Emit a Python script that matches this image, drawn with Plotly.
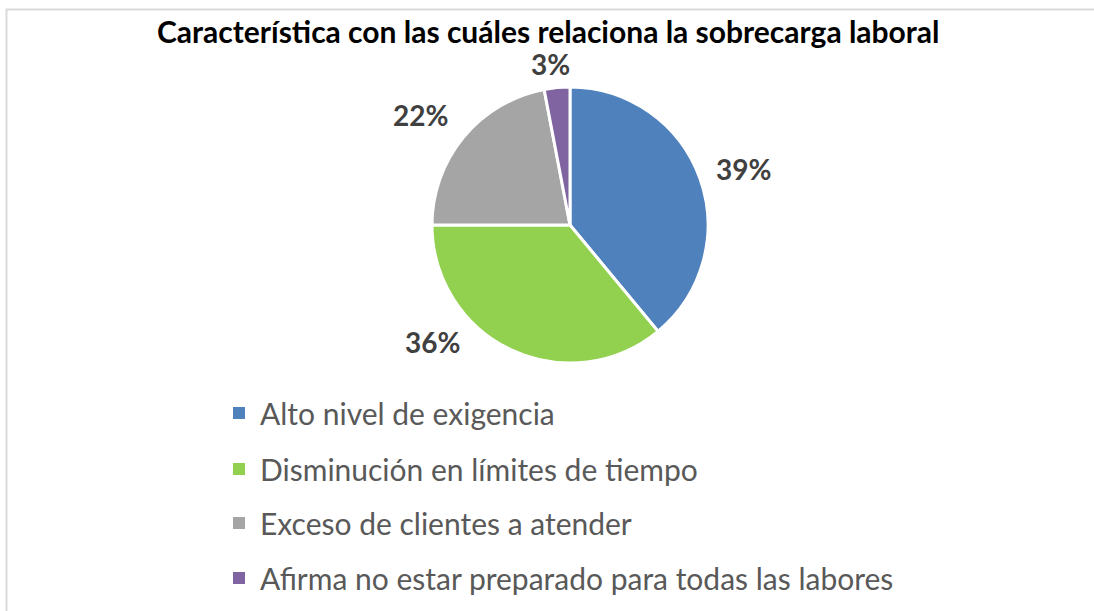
import plotly.graph_objects as go

W, H = 1094, 611

categories = [
    "Alto nivel de exigencia",
    "Disminución en límites de tiempo",
    "Exceso de clientes a atender",
    "Afirma no estar preparado para todas las labores",
]
values = [39, 36, 22, 3]
colors = ["#4F81BD", "#92D050", "#A5A5A5", "#8064A2"]
title_text = "Característica con las cuáles relaciona la sobrecarga laboral"

# label placements (pixel positions, Excel "best fit" layout)
label_px = [(743, 169), (432, 342), (420, 115), (550, 64)]

def px(x, y):
    return x / W, 1 - y / H

cx, cy, r = 570, 225, 138
fig = go.Figure()
fig.add_trace(go.Pie(
    labels=categories,
    values=values,
    marker=dict(colors=colors, line=dict(color="white", width=3)),
    sort=False,
    direction="clockwise",
    rotation=0,
    textinfo="none",
    hoverinfo="label+percent",
    showlegend=False,
    domain=dict(x=[(cx - r) / W, (cx + r) / W], y=[1 - (cy + r) / H, 1 - (cy - r) / H]),
))

annotations = []
total = sum(values)
for v, (lx, ly) in zip(values, label_px):
    x, y = px(lx, ly)
    annotations.append(dict(
        x=x, y=y, xref="paper", yref="paper", showarrow=False,
        text=f"<b>{round(100 * v / total)}%</b>",
        font=dict(family="Lato", size=28, color="#404040"),
        xanchor="center", yanchor="middle",
    ))

# title
tx, ty = px(548, 31)
annotations.append(dict(
    x=tx, y=ty, xref="paper", yref="paper", showarrow=False,
    text=f"<b>{title_text}</b>",
    font=dict(family="Lato", size=30, color="#000000"),
    xanchor="center", yanchor="middle",
))

shapes = [dict(type="rect", xref="paper", yref="paper",
               x0=6.5 / W, x1=1.01, y0=-0.01, y1=1 - 9.5 / H,
               line=dict(color="#D9D9D9", width=2), fillcolor="rgba(0,0,0,0)")]

# manual legend
leg_y = [413, 469, 523, 578]
for cat, col, ly in zip(categories, colors, leg_y):
    x0, y0 = px(233, ly - 6)
    x1, y1 = px(245, ly + 6)
    shapes.append(dict(type="rect", xref="paper", yref="paper",
                       x0=x0, x1=x1, y0=y1, y1=y0,
                       line=dict(width=0), fillcolor=col))
    ax, ay = px(258, ly)
    annotations.append(dict(
        x=ax, y=ay, xref="paper", yref="paper", showarrow=False,
        text=cat, font=dict(family="Lato", size=30, color="#595959"),
        xanchor="left", yanchor="middle",
    ))

fig.update_layout(
    width=W, height=H,
    margin=dict(l=0, r=0, t=0, b=0),
    paper_bgcolor="white", plot_bgcolor="white",
    annotations=annotations, shapes=shapes,
)
fig.write_html("out.html", config={"displayModeBar": False},
               post_script="document.body.style.margin='0px';document.body.style.overflow='hidden';")
